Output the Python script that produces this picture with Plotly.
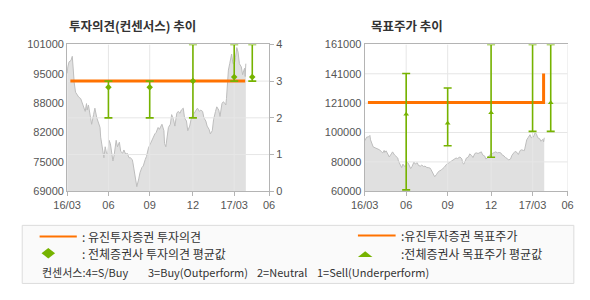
import plotly.graph_objects as go

# ---------------- data ----------------
# trading-day index (0 = 16/03 start, 313 = 17/06) and close price
price_day = [0, 1, 3, 6, 8, 9, 11, 13, 16, 18, 21, 23, 26, 28, 30, 31, 33, 36, 38, 41, 43, 46, 48,
             51, 52, 54, 56, 57, 59, 61, 63, 65, 67, 69, 71, 73, 76, 78, 81, 83, 86, 88, 91, 93,
             96, 98, 101, 102, 103, 105, 107, 108, 111, 113, 116, 118, 121, 123, 126, 128, 131,
             133, 136, 138, 141, 143, 147, 150, 151, 153, 156, 157, 160, 162, 165, 167, 170, 172,
             175, 177, 180, 182, 185, 187, 190, 192, 195, 197, 200, 202, 205, 207, 210, 212, 215,
             217, 220, 222, 225, 227, 230, 232, 235, 237, 240, 242, 245, 246, 247, 249, 250, 252,
             255, 257, 260, 261, 263, 265, 267, 270, 272, 275, 276, 277]
price_val = [94700, 96100, 97200, 97500, 98400, 95400, 92600, 90600, 89900, 89500, 89200, 88500,
             87100, 86400, 88100, 86700, 87800, 85000, 83600, 85700, 87100, 85000, 84300, 82900,
             80800, 78700, 77300, 76300, 78700, 77300, 77000, 80100, 79400, 77300, 75600, 77000,
             80100, 78700, 79700, 77700, 77300, 78000, 77000, 77300, 76300, 76300, 75900, 75200,
             74200, 72400, 71000, 70000, 71700, 73100, 74200, 74500, 75900, 76600, 78400, 79000,
             80100, 80800, 81500, 81800, 82900, 82500, 83600, 82200, 79400, 78700, 81500, 82900,
             83600, 85700, 84600, 83200, 86000, 86400, 86000, 86700, 87100, 85000, 84300, 82200,
             83200, 84600, 85700, 86000, 86700, 87100, 86400, 86700, 86400, 85000, 84300, 83200,
             82500, 81500, 82200, 84600, 86400, 87400, 86700, 85300, 88100, 88500, 88100, 87800,
             89200, 93300, 95400, 96800, 98900, 96800, 97200, 98200, 100300, 99300, 96800, 96100,
             94400, 95800, 94000, 96800, 95400]

x_tick_pos = [0, 64, 128, 195, 259, 313]
x_tick_text = ["16/03", "06", "09", "12", "17/03", "06"]

# left chart: investment opinion (consensus)
opinion_ticks = [0, 1, 2, 3, 4]
price_ticks_left = [69000, 75400, 81800, 88200, 94600, 101000]
price_ticks_left_text = ["69000", "75000", "82000", "88000", "95000", "101000"]
consensus_day = [64, 128, 195, 259, 287]
opinion_min = [2, 2, 2, 3, 3]
opinion_max = [3, 3, 4, 4, 4]
opinion_avg = [2.83, 2.83, 3.0, 3.11, 3.11]
eugene_opinion_day = [5, 276]
eugene_opinion = [3, 3]

# right chart: target price
price_ticks_right = [60000, 80200, 100400, 120600, 140800, 161000]
price_ticks_right_text = ["60000", "80000", "100000", "121000", "141000", "161000"]
target_min = [61000, 91300, 83400, 101200, 101200]
target_max = [141000, 131000, 161000, 161000, 161000]
target_avg = [113000, 106700, 114000, None, 120900]
eugene_target_day = [5, 276, 276]
eugene_target = [121000, 121000, 141000]

# ---------------- style ----------------
W, H = 590, 300
ORANGE = "#ff7200"
GREEN = "#76b300"
GRID = "#e6e6e6"
AXIS = "#b4b4b4"
FILL = "#e0e0e0"
PLINE = "#bdbdbd"
KR = "Noto Sans CJK KR"
NUM = "Liberation Sans, Arial"


def px(x):
    return x / W


def py(y):
    return 1 - y / H


left_dom = [px(55), px(264)]
right_dom = [px(363), px(573)]
y_dom = [py(193), py(40)]

fig = go.Figure()


def grid_trace(xvals, yvals, xrange_, yrange_, xa, ya):
    gx, gy = [], []
    for v in xvals:
        gx += [v, v, None]
        gy += [yrange_[0], yrange_[1], None]
    for v in yvals:
        gx += [xrange_[0], xrange_[1], None]
        gy += [v, v, None]
    return go.Scatter(x=gx, y=gy, mode="lines", line=dict(color=GRID, width=1),
                      xaxis=xa, yaxis=ya, hoverinfo="skip", showlegend=False)


XR = [x_tick_pos[0], x_tick_pos[-1]]

# ---- left chart ----
fig.add_trace(go.Scatter(x=price_day, y=price_val, mode="lines", fill="tozeroy",
                         fillcolor=FILL, line=dict(color=PLINE, width=1),
                         xaxis="x", yaxis="y", showlegend=False))
fig.add_trace(grid_trace(x_tick_pos[1:-1], opinion_ticks[1:-1], XR,
                         [opinion_ticks[0], opinion_ticks[-1]], "x", "y2"))
fig.add_trace(go.Scatter(x=eugene_opinion_day, y=eugene_opinion, mode="lines",
                         line=dict(color=ORANGE, width=3), xaxis="x", yaxis="y2",
                         showlegend=False))
fig.add_trace(go.Scatter(
    x=consensus_day, y=opinion_min, mode="markers",
    marker=dict(size=1, color="rgba(0,0,0,0)"),
    error_y=dict(type="data", symmetric=False,
                 array=[a - b for a, b in zip(opinion_max, opinion_min)],
                 arrayminus=[0] * len(opinion_min), color=GREEN, thickness=1.6, width=4),
    xaxis="x", yaxis="y2", showlegend=False))
fig.add_trace(go.Scatter(x=consensus_day, y=opinion_avg, mode="markers",
                         marker=dict(symbol="diamond", size=5, color=GREEN),
                         xaxis="x", yaxis="y2", showlegend=False))

# ---- right chart ----
fig.add_trace(go.Scatter(x=price_day, y=price_val, mode="lines", fill="tozeroy",
                         fillcolor=FILL, line=dict(color=PLINE, width=1),
                         xaxis="x2", yaxis="y3", showlegend=False))
fig.add_trace(grid_trace(x_tick_pos[1:], price_ticks_right[1:-1], XR,
                         [price_ticks_right[0], price_ticks_right[-1]], "x2", "y3"))
fig.add_trace(go.Scatter(x=eugene_target_day, y=eugene_target, mode="lines",
                         line=dict(color=ORANGE, width=3), xaxis="x2", yaxis="y3",
                         showlegend=False))
fig.add_trace(go.Scatter(
    x=consensus_day, y=target_min, mode="markers",
    marker=dict(size=1, color="rgba(0,0,0,0)"),
    error_y=dict(type="data", symmetric=False,
                 array=[a - b for a, b in zip(target_max, target_min)],
                 arrayminus=[0] * len(target_min), color=GREEN, thickness=1.6, width=4),
    xaxis="x2", yaxis="y3", showlegend=False))
fig.add_trace(go.Scatter(x=consensus_day, y=target_avg, mode="markers",
                         marker=dict(symbol="triangle-up", size=5, color=GREEN),
                         xaxis="x2", yaxis="y3", showlegend=False))

tickfont = dict(family=NUM, size=11, color="#555")
xcommon = dict(range=XR, tickvals=x_tick_pos, ticktext=x_tick_text, showgrid=False,
               zeroline=False, showline=True, linecolor=AXIS, linewidth=1, mirror=True,
               ticks="outside", ticklen=4, tickcolor=AXIS, tickfont=tickfont, fixedrange=True)

fig.update_layout(
    width=W, height=H, margin=dict(l=0, r=0, t=0, b=0),
    paper_bgcolor="white", plot_bgcolor="rgba(0,0,0,0)", showlegend=False,
    xaxis=dict(domain=left_dom, anchor="y", **xcommon),
    yaxis=dict(domain=y_dom, anchor="x", range=[price_ticks_left[0], price_ticks_left[-1]],
               tickvals=price_ticks_left, ticktext=price_ticks_left_text, showgrid=False,
               zeroline=False, showline=True, linecolor=AXIS, ticks="", tickfont=tickfont),
    yaxis2=dict(overlaying="y", anchor="x", side="right",
                range=[opinion_ticks[0], opinion_ticks[-1]], tickvals=opinion_ticks,
                showgrid=False, zeroline=False, showline=True, linecolor=AXIS,
                ticks="outside", ticklen=4, tickcolor=AXIS, tickfont=tickfont),
    xaxis2=dict(domain=right_dom, anchor="y3", **xcommon),
    yaxis3=dict(domain=y_dom, anchor="x2", range=[price_ticks_right[0], price_ticks_right[-1]],
                tickvals=price_ticks_right, ticktext=price_ticks_right_text, showgrid=False,
                zeroline=False, showline=True, linecolor=AXIS, ticks="", tickfont=tickfont),
)

# ---- titles ----
annotations = [
    dict(text="<b>투자의견(컨센서스) 추이</b>", x=px(55), y=py(20.5)),
    dict(text="<b>목표주가 추이</b>", x=px(367), y=py(20.5)),
]
for a in annotations:
    a.update(xref="paper", yref="paper", xanchor="left", yanchor="middle", showarrow=False,
             font=dict(family=KR, size=12.5, color="#333"))

# ---- legend box ----
shapes = [
    dict(type="rect", xref="paper", yref="paper", x0=px(8.5), x1=px(579.5), y0=py(289),
         y1=py(228.5), line=dict(color="#dcdcdc", width=1), fillcolor="#fafafa", layer="below"),
    dict(type="line", xref="paper", yref="paper", x0=px(26.5), x1=px(65), y0=py(240),
         y1=py(240), line=dict(color=ORANGE, width=2)),
    dict(type="line", xref="paper", yref="paper", x0=px(356), x1=px(395), y0=py(239),
         y1=py(239), line=dict(color=ORANGE, width=2)),
    dict(type="path", xref="paper", yref="paper",
         path=f"M {px(28.5)},{py(257.5)} L {px(35.5)},{py(252)} L {px(42.5)},{py(257.5)} "
              f"L {px(35.5)},{py(263)} Z",
         fillcolor=GREEN, line=dict(width=0)),
    dict(type="path", xref="paper", yref="paper",
         path=f"M {px(356)},{py(261.5)} L {px(363.5)},{py(255.5)} L {px(371)},{py(261.5)} Z",
         fillcolor=GREEN, line=dict(width=0)),
]

legend_font = dict(family=KR, size=12, color="#333")
legend_texts = [
    (": 유진투자증권 투자의견", 68, 240.5),
    (": 전체증권사 투자의견 평균값", 68, 258),
    (":유진투자증권 목표주가", 399, 239.5),
    (":전체증권사 목표주가 평균값", 399, 258),
]
for t, x, y in legend_texts:
    annotations.append(dict(text=t, x=px(x), y=py(y), xref="paper", yref="paper",
                            xanchor="left", yanchor="middle", showarrow=False, font=legend_font))
row3 = [("컨센서스:4=S/Buy", 26.5), ("3=Buy(Outperform)", 137), ("2=Neutral", 249),
        ("1=Sell(Underperform)", 312)]
for t, x in row3:
    annotations.append(dict(text=t, x=px(x), y=py(277), xref="paper", yref="paper",
                            xanchor="left", yanchor="middle", showarrow=False,
                            font=dict(family=KR, size=11, color="#333")))

fig.update_layout(annotations=annotations, shapes=shapes)
fig.write_html("out.html")
